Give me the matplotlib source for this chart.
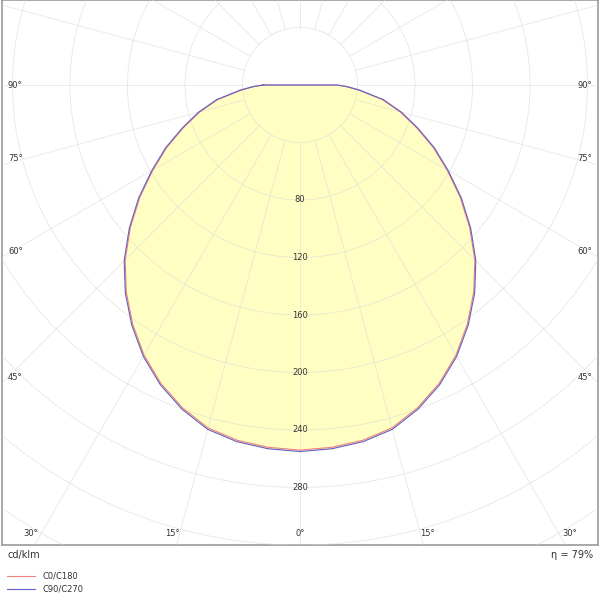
import matplotlib.pyplot as plt
import numpy as np

# luminous intensity, cd/klm, by gamma angle (deg)
gamma = [0, 5, 10, 15, 20, 25, 30, 35, 40, 45, 50, 55, 60, 65, 70, 75, 80, 85, 88, 90]
c0_c180 = [254, 253, 251, 247, 239, 229, 217, 203, 188, 172, 154, 136, 118, 102, 86, 72, 58, 41, 32, 25]
c90_c270 = [255, 254, 252, 248, 240, 230, 218, 204, 189, 173, 155, 137, 119, 103, 87, 73, 59, 42, 33, 26]
ring_labels = [80, 120, 160, 200, 240, 280]
side_angles = [45, 60, 75, 90]
bottom_angles = [0, 15, 30]

K = 1.4375  # px per cd/klm
fig = plt.figure(figsize=(6, 5.96), dpi=100)
ax = fig.add_axes([2 / 600, 51 / 596, 596 / 600, 545 / 596])
ax.set_xlim(-298 / K, 298 / K)
ax.set_ylim(-460 / K, 85 / K)
ax.set_xticks([])
ax.set_yticks([])
for s in ax.spines.values():
    s.set_color("#999999")
    s.set_linewidth(1.2)

grid_kw = dict(color="#d8d8d8", lw=0.6, alpha=0.6, zorder=3)
t = np.linspace(0, 2 * np.pi, 400)
for r in range(40, 440, 40):
    ax.plot(r * np.cos(t), r * np.sin(t), **grid_kw)
for a in range(0, 360, 15):
    ar = np.radians(a)
    ax.plot([40 * np.sin(ar), 420 * np.sin(ar)], [-40 * np.cos(ar), -420 * np.cos(ar)], **grid_kw)


def curve(values):
    g = np.radians(gamma)
    v = np.asarray(values, dtype=float)
    xr = v * np.sin(g)
    yr = -v * np.cos(g)
    x = np.concatenate([-xr[::-1], xr[1:]])
    y = np.concatenate([yr[::-1], yr[1:]])
    return x, y


x0, y0 = curve(c0_c180)
x1, y1 = curve(c90_c270)
ax.fill(np.append(x1, 0), np.append(y1, 0), color="#ffffc4", zorder=2)
ax.plot(np.append(x0, x0[0]), np.append(y0, y0[0]), color="#f08080", lw=0.8, zorder=4)
ax.plot(np.append(x1, x1[0]), np.append(y1, y1[0]), color="#6060d0", lw=0.8, zorder=4)

for v in ring_labels:
    ax.text(0, -v, str(v), ha="center", va="center", fontsize=6, color="#333333", zorder=5)

xe = 298 / K
for a in side_angles:
    yv = -xe / np.tan(np.radians(a)) if a != 90 else 0
    yv += 6 / K if a != 90 else 0
    ax.text(-xe + 6 / K, yv, f"{a}°", ha="left", va="center", fontsize=6, color="#333333")
    ax.text(xe - 6 / K, yv, f"{a}°", ha="right", va="center", fontsize=6, color="#333333")
yb = -460 / K
for a in bottom_angles:
    xv = -yb * np.tan(np.radians(a)) + (4 / K if a else 0)
    for sx in ([1] if a == 0 else [-1, 1]):
        ax.text(sx * xv, yb + 12 / K, f"{a}°", ha="center", va="center", fontsize=6, color="#333333")

fig.text(7 / 600, 1 - 555 / 596, "cd/klm", fontsize=7, color="#333333", va="center")
fig.text(593 / 600, 1 - 555 / 596, "η = 79%", fontsize=7, color="#333333", va="center", ha="right")
for i, (lab, col) in enumerate([("C0/C180", "#f08080"), ("C90/C270", "#6060d0")]):
    yy = 1 - (576 + 13 * i) / 596
    fig.add_artist(plt.Line2D([7 / 600, 35 / 600], [yy, yy], color=col, lw=0.8))
    fig.text(42 / 600, yy, lab, fontsize=6, color="#333333", va="center")

fig.savefig("out.png", dpi=100)
